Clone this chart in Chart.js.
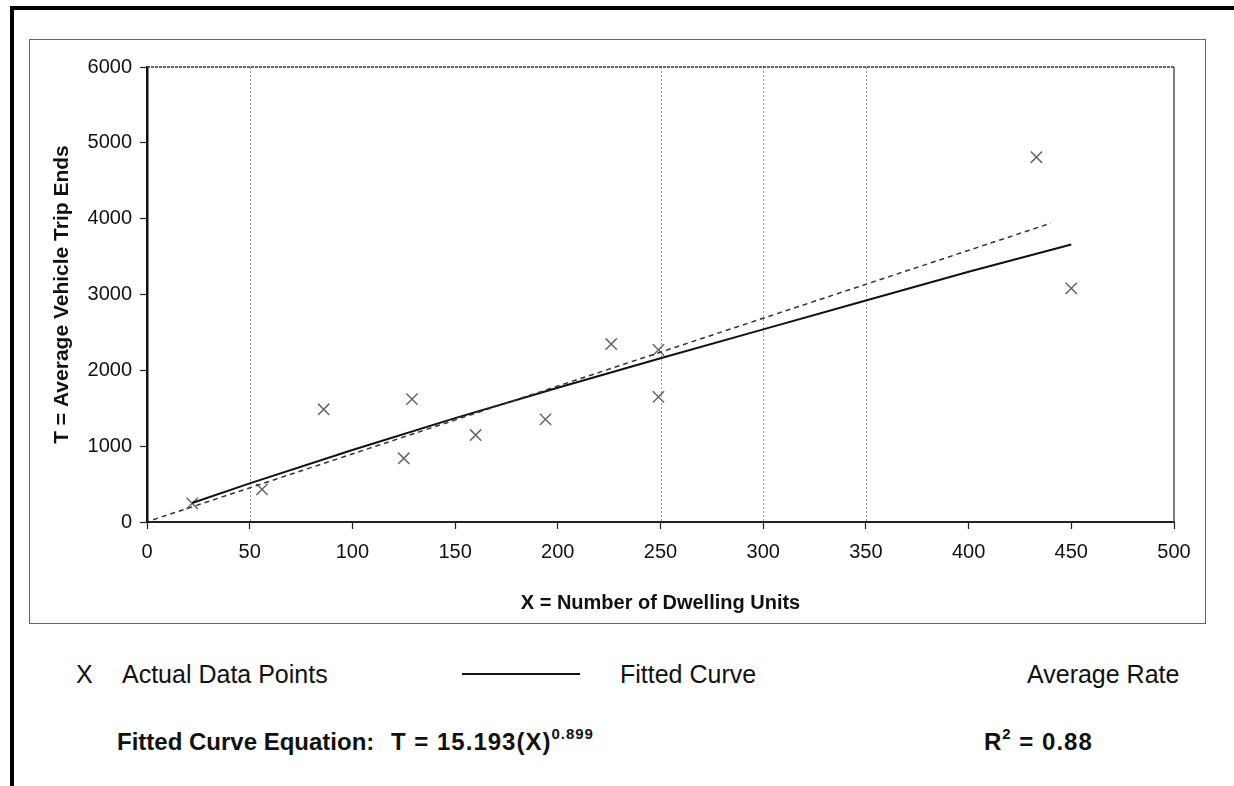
<!DOCTYPE html>
<html>
<head>
<meta charset="utf-8">
<script src="https://cdn.jsdelivr.net/npm/chart.js@4.4.0/dist/chart.umd.min.js"></script>
<style>
body { margin: 0; background: #fff; width: 1234px; height: 786px; overflow: hidden; position: relative; font-family: "Liberation Sans", Arial, sans-serif; color: #111; }
.abs { position: absolute; white-space: nowrap; }
#frameTop { left: 10px; top: 6px; width: 1224px; height: 4px; background: #000; }
#frameLeft { left: 10px; top: 6px; width: 4px; height: 780px; background: #000; }
#box { left: 29px; top: 39px; width: 1177px; height: 585px; border: 1.5px solid #666; box-sizing: border-box; }
#wrap { left: 29px; top: 39px; width: 1176px; height: 584px; }
.leg { font-size: 25px; line-height: 25px; top: 662px; }
.eq { font-size: 24px; font-weight: bold; line-height: 25px; top: 729px; }
.sup { font-size: 15px; position: relative; top: -11px; }
#legLine { left: 462px; top: 673px; width: 118px; height: 2px; background: #111; }
</style>
</head>
<body>
<div id="frameTop" class="abs"></div>
<div id="frameLeft" class="abs"></div>
<div id="box" class="abs"></div>
<div id="wrap" class="abs"><canvas id="tripChart" width="1176" height="584"></canvas></div>

<div class="abs leg" style="left:76px">X</div>
<div class="abs leg" style="left:122px">Actual Data Points</div>
<div id="legLine" class="abs"></div>
<div class="abs leg" style="left:620px">Fitted Curve</div>
<div class="abs leg" style="left:1027px">Average Rate</div>

<div class="abs eq" style="left:117px">Fitted Curve Equation:</div>
<div class="abs eq" style="left:391px; letter-spacing:1px">T = 15.193(X)<span class="sup">0.899</span></div>
<div class="abs eq" style="left:984px; letter-spacing:1px">R<span class="sup">2</span> = 0.88</div>

<script>
// actual data points
const dwellingUnits = [22, 56, 86, 125, 129, 160, 194, 226, 249, 249, 433, 450];
const tripEnds = [246, 431, 1486, 840, 1620, 1147, 1354, 2347, 2270, 1650, 4810, 3080];

// fitted curve
const fittedX = [22, 50, 100, 150, 200, 250, 300, 350, 400, 450];
const fittedT = [250, 510, 950, 1370, 1770, 2160, 2540, 2920, 3300, 3660];

// average rate, dashed line ends
const avgRateX = [3, 440];
const avgRateT = [30, 3940];

const xTicks = [0, 50, 100, 150, 200, 250, 300, 350, 400, 450, 500];
const yTicks = [0, 1000, 2000, 3000, 4000, 5000, 6000];
const gridX = [50, 250, 300, 350];   // the only vertical gridlines still visible

const toPoints = (xs, ys) => xs.map((v, i) => ({ x: v, y: ys[i] }));

const framePlugin = {
    id: 'frame',
    beforeDatasetsDraw(chart) {
        const { ctx, chartArea: a, scales: { x } } = chart;
        ctx.save();
        ctx.strokeStyle = '#999';
        ctx.lineWidth = 1;
        ctx.setLineDash([2, 2]);
        gridX.forEach(v => {
            const px = Math.round(x.getPixelForValue(v)) + 0.5;
            ctx.beginPath();
            ctx.moveTo(px, a.top);
            ctx.lineTo(px, a.bottom);
            ctx.stroke();
        });
        ctx.strokeStyle = '#333';
        ctx.lineWidth = 1.5;
        ctx.setLineDash([3, 1]);
        ctx.beginPath();
        ctx.moveTo(a.left, a.top);
        ctx.lineTo(a.right, a.top);
        ctx.stroke();
        ctx.setLineDash([]);
        ctx.strokeStyle = '#555';
        ctx.beginPath();
        ctx.moveTo(a.right, a.top);
        ctx.lineTo(a.right, a.bottom);
        ctx.stroke();
        ctx.restore();
    }
};

const ctx = document.getElementById('tripChart').getContext('2d');
new Chart(ctx, {
    type: 'scatter',
    data: {
        datasets: [
            {
                label: 'Average Rate',
                data: toPoints(avgRateX, avgRateT),
                showLine: true,
                borderColor: '#333',
                borderWidth: 1.5,
                borderDash: [5, 4],
                pointRadius: 0
            },
            {
                label: 'Fitted Curve',
                data: toPoints(fittedX, fittedT),
                showLine: true,
                borderColor: '#111',
                borderWidth: 2,
                pointRadius: 0
            },
            {
                label: 'Actual Data Points',
                data: toPoints(dwellingUnits, tripEnds),
                pointStyle: 'crossRot',
                pointRadius: 8,
                borderColor: '#666',
                borderWidth: 1.5
            }
        ]
    },
    options: {
        responsive: false,
        animation: false,
        layout: { padding: { top: 28, right: 31, left: 0, bottom: 0 } },
        plugins: { legend: { display: false }, tooltip: { enabled: false } },
        scales: {
            x: {
                type: 'linear',
                min: 0,
                max: 500,
                afterBuildTicks: s => { s.ticks = xTicks.map(v => ({ value: v })); },
                afterFit: s => { s.height = 101; },
                grid: { drawOnChartArea: false, tickLength: 7, tickColor: '#222', tickWidth: 1.2 },
                border: { color: '#222', width: 2 },
                ticks: { color: '#111', padding: 11, maxRotation: 0, callback: v => String(v), font: { family: 'Liberation Sans', size: 20 } },
                title: {
                    display: true,
                    text: 'X = Number of Dwelling Units',
                    color: '#111',
                    padding: { top: 0, bottom: 8 },
                    font: { family: 'Liberation Sans', size: 20, weight: 'bold' }
                }
            },
            y: {
                min: 0,
                max: 6000,
                afterBuildTicks: s => { s.ticks = yTicks.map(v => ({ value: v })); },
                afterFit: s => { s.width = 118; },
                grid: { drawOnChartArea: false, tickLength: 7, tickColor: '#222', tickWidth: 1.2 },
                border: { color: '#111', width: 2.5 },
                ticks: { color: '#111', padding: 8, callback: v => String(v), font: { family: 'Liberation Sans', size: 20 } },
                title: {
                    display: true,
                    text: 'T = Average Vehicle Trip Ends',
                    color: '#111',
                    padding: { top: 21, bottom: 0 },
                    font: { family: 'Liberation Sans', size: 21, weight: 'bold' }
                }
            }
        }
    },
    plugins: [framePlugin]
});
</script>
</body>
</html>
